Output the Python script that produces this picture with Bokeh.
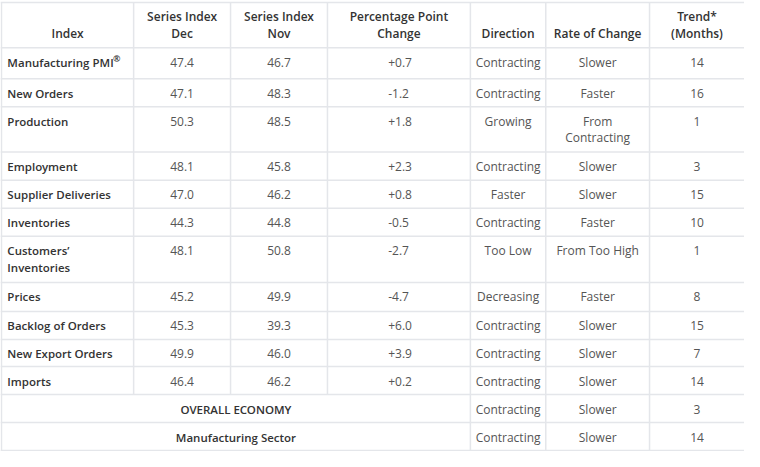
from bokeh.plotting import figure
from bokeh.models import ColumnDataSource, Range1d
from bokeh.core.properties import value
from bokeh.embed import file_html
from bokeh.resources import INLINE

# ---------------- data ----------------
header_labels = ["Index", "Series Index\nDec", "Series Index\nNov",
                 "Percentage Point\nChange", "Direction", "Rate of Change",
                 "Trend*\n(Months)"]
index_names = ["Manufacturing PMI", "New Orders", "Production", "Employment",
               "Supplier Deliveries", "Inventories", "Customers’\nInventories",
               "Prices", "Backlog of Orders", "New Export Orders", "Imports"]
registered_mark = "®"
series_dec = [47.4, 47.1, 50.3, 48.1, 47.0, 44.3, 48.1, 45.2, 45.3, 49.9, 46.4]
series_nov = [46.7, 48.3, 48.5, 45.8, 46.2, 44.8, 50.8, 49.9, 39.3, 46.0, 46.2]
point_change = [0.7, -1.2, 1.8, 2.3, 0.8, -0.5, -2.7, -4.7, 6.0, 3.9, 0.2]
direction = ["Contracting", "Contracting", "Growing", "Contracting", "Faster",
             "Contracting", "Too Low", "Decreasing", "Contracting",
             "Contracting", "Contracting"]
rate_of_change = ["Slower", "Faster", "From\nContracting", "Slower", "Slower",
                  "Faster", "From Too High", "Faster", "Slower", "Slower", "Slower"]
trend_months = [14, 16, 1, 3, 15, 10, 1, 8, 15, 7, 14]

summary_names = ["OVERALL ECONOMY", "Manufacturing Sector"]
summary_direction = ["Contracting", "Contracting"]
summary_rate = ["Slower", "Slower"]
summary_trend = [3, 14]

# ---------------- layout (pixel units of the original table) ----------------
TABLE_W, TABLE_H = 760, 467
col_edges = [1, 136, 235, 334, 480, 557, 663, 760]
top_border = 2
header_h = 47
row_heights = [32, 29, 47, 29, 29, 29, 48, 30, 29, 28, 29, 29, 29]
first_line = 15
line_step = 17
pad_left = 6
reg_offset_x = 108   # where the superscript sits after "Manufacturing PMI"

HEAD_COLOR = "#333333"
NAME_COLOR = "#333333"
CELL_COLOR = "#555555"
GRID_COLOR = "#e4e6ea"
FONT = "Open Sans"
FONT_SEMI = "Open Sans SemiBold"
FSIZE = "12px"
NAME_SIZE = "11.5px"

p = figure(width=744, height=451, output_backend="svg", toolbar_location=None,
           x_range=Range1d(0, TABLE_W), y_range=Range1d(TABLE_H, 0),
           min_border=0, outline_line_color=None, background_fill_color="white",
           border_fill_color="white")
p.axis.visible = False
p.grid.visible = False

bounds = [top_border, top_border + header_h]
for h in row_heights:
    bounds.append(bounds[-1] + h)
n_data = len(index_names)

hx0, hx1, hy = [], [], []
for b in bounds:
    hx0.append(0); hx1.append(TABLE_W); hy.append(b)
p.segment(x0=hx0, x1=hx1, y0=hy, y1=hy, line_color=GRID_COLOR, line_width=1.5)
vx, vy0, vy1 = [], [], []
for i, e in enumerate(col_edges[:-1]):
    vx.append(e)
    vy0.append(top_border)
    if i in (1, 2, 3):
        vy1.append(bounds[1 + n_data])
    else:
        vy1.append(bounds[-1] + 2)
p.segment(x0=vx, x1=vx, y0=vy0, y1=vy1, line_color=GRID_COLOR, line_width=1.5)

centers = [(col_edges[i] + col_edges[i + 1]) / 2 for i in range(len(col_edges) - 1)]

groups = {}
def add(x, y_top, text, align, color, font, last_aligned_bottom=None, size=FSIZE, dy=0):
    lines = text.split("\n")
    key = (align, color, font, size)
    g = groups.setdefault(key, {"x": [], "y": [], "t": []})
    if last_aligned_bottom is not None:
        start = last_aligned_bottom - line_step * (len(lines) - 1)
    else:
        start = y_top + first_line
    for k, ln in enumerate(lines):
        g["x"].append(x)
        g["y"].append(start + k * line_step + dy)
        g["t"].append(ln)

hb = bounds[1] - 15
for i, lab in enumerate(header_labels):
    add(centers[i], 0, lab, "center", HEAD_COLOR, FONT_SEMI, hb)

def fmt_change(v):
    return ("+" if v > 0 else "") + f"{v:.1f}"

for r in range(n_data):
    top = bounds[1 + r]
    add(col_edges[0] + pad_left, top, index_names[r], "left", NAME_COLOR, FONT_SEMI,
        size=NAME_SIZE)
    if r == 0:
        add(col_edges[0] + pad_left + reg_offset_x, top, registered_mark, "left",
            NAME_COLOR, FONT_SEMI, size="9px", dy=-4)
    add(centers[1], top, f"{series_dec[r]:.1f}", "center", CELL_COLOR, FONT)
    add(centers[2], top, f"{series_nov[r]:.1f}", "center", CELL_COLOR, FONT)
    add(col_edges[3] + 62, top, fmt_change(point_change[r]), "left", CELL_COLOR, FONT)
    add(centers[4], top, direction[r], "center", CELL_COLOR, FONT)
    add(centers[5], top, rate_of_change[r], "center", CELL_COLOR, FONT)
    add(centers[6], top, str(trend_months[r]), "center", CELL_COLOR, FONT)

for s in range(len(summary_names)):
    top = bounds[1 + n_data + s]
    add((col_edges[0] + col_edges[4]) / 2, top, summary_names[s], "center", NAME_COLOR,
        FONT_SEMI, size=NAME_SIZE)
    add(centers[4], top, summary_direction[s], "center", CELL_COLOR, FONT)
    add(centers[5], top, summary_rate[s], "center", CELL_COLOR, FONT)
    add(centers[6], top, str(summary_trend[s]), "center", CELL_COLOR, FONT)

for (align, color, font, size), g in groups.items():
    src = ColumnDataSource(dict(x=g["x"], y=g["y"], t=g["t"]))
    p.text(x="x", y="y", text="t", source=src, text_align=align,
           text_baseline="middle", text_color=color, text_font=value(font),
           text_font_size=size, text_font_style="normal")

open("out.html", "w").write(file_html(p, INLINE))
